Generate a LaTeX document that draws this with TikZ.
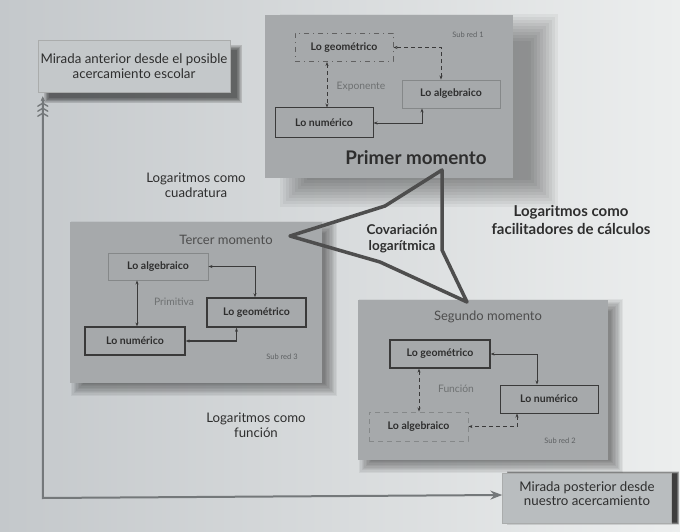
\documentclass[tikz,border=0pt]{standalone}
\usepackage{fontspec}
\setmainfont{Lato}
\usetikzlibrary{arrows.meta,calc}
\definecolor{bgL}{HTML}{C4C8CB}
\definecolor{bgR}{HTML}{ECEEEE}
\definecolor{panel}{HTML}{A6A9AB}
\definecolor{ink}{HTML}{2E2E2E}
\definecolor{soft}{HTML}{5E6163}
\definecolor{lineD}{HTML}{3A3A3A}
\definecolor{lineL}{HTML}{858889}
\definecolor{axis}{HTML}{74787A}
\definecolor{mirAfill}{HTML}{C4C8CA}
\definecolor{mirBfill}{HTML}{B9BDBF}
\newcommand\mkshadow[5]{% node, dx, dy, r, opacity per layer
  \foreach \k in {0,...,9}{
    \fill[black, opacity=#5]
      ($(#1.south west)+({#2-#4+\k*#4/5},{#3+#4-\k*#4/5})$) rectangle
      ($(#1.north east)+({#2+#4-\k*#4/5},{#3-#4+\k*#4/5})$);
  }}
\tikzset{
  panelbox/.style={fill=panel, draw=none, inner sep=0pt},
  mirbox/.style={fill=#1, draw=lineL!70, line width=0.4pt, align=center, font=\fontsize{13.3}{14.5}\selectfont, text=ink, inner sep=0pt},
  inbox/.style={draw=lineD, line width=1pt, minimum width=98pt, minimum height=28pt, inner sep=0pt, font=\bfseries\fontsize{10.5}{12}\selectfont, text=ink},
  lightbox/.style={inbox, draw=lineL, line width=0.9pt},
  thickbox/.style={inbox, line width=1.6pt},
  ddbox/.style={inbox, draw=lineD!80, line width=0.9pt, dash pattern=on 5pt off 4pt on 1pt off 4pt},
  dlbox/.style={inbox, draw=lineL, line width=0.9pt, dash pattern=on 5pt off 4pt},
  conn/.style={line width=0.9pt, draw=lineD, {Stealth[length=4pt,width=3pt]}-{Stealth[length=4pt,width=3pt]}},
  dconn/.style={conn, dash pattern=on 4pt off 3pt},
  subtxt/.style={text=soft, font=\fontsize{7.5}{8}\selectfont},
  reltxt/.style={text=soft!90, font=\fontsize{10.3}{12}\selectfont},
  momtxt/.style={text=ink!85, font=\fontsize{13}{15}\selectfont},
  captxt/.style={text=ink, align=center, font=\fontsize{13.2}{15.5}\selectfont},
  boldcap/.style={text=ink, align=center, font=\bfseries\fontsize{15}{17.5}\selectfont},
}
\begin{document}
\begin{tikzpicture}[x=1pt,y=-1pt]
\useasboundingbox (0,0) rectangle (680,532);
\shade[left color=bgL, right color=bgR] (0,0) rectangle (680,532);

% panel geometry
\path (389,96.5) node[minimum width=248pt, minimum height=163pt, inner sep=0pt] (p1g) {};
\path (196,302.5) node[minimum width=252pt, minimum height=161pt, inner sep=0pt] (p3g) {};
\path (483,380) node[minimum width=250pt, minimum height=160pt, inner sep=0pt] (p2g) {};
\mkshadow{p1g}{30}{14}{15}{0.045}
\mkshadow{p3g}{8}{6}{7}{0.05}
\mkshadow{p2g}{8}{6}{7}{0.05}

% panels
\node[panelbox, minimum width=248pt, minimum height=163pt] (p1) at (p1g) {};
\node[panelbox, minimum width=252pt, minimum height=161pt] (p3) at (p3g) {};
\node[panelbox, minimum width=250pt, minimum height=160pt] (p2) at (p2g) {};

% outer boxes
\path (134,66) node[minimum width=192pt, minimum height=52pt, inner sep=0pt] (mAg) {};
\path (587,498) node[minimum width=169pt, minimum height=50pt, inner sep=0pt] (mBg) {};
\mkshadow{mAg}{9}{8}{3}{0.07}
\mkshadow{mBg}{6}{0}{1.5}{0.12}
\node[mirbox=mirAfill, minimum width=192pt, minimum height=52pt] (mirA) at (mAg)
  {Mirada anterior desde el posible\\acercamiento escolar};
\node[mirbox=mirBfill, minimum width=169pt, minimum height=50pt, text depth=0pt] (mirB) at (mBg)
  {\raisebox{17pt}{\parbox{165pt}{\centering Mirada posterior desde\\nuestro acercamiento}}};

% axis
\coordinate (ax) at ([xshift=5pt]mirA.south west);
\coordinate (axc) at (ax |- mirB.west);
\draw[axis, line width=2pt, -{Stealth[length=12pt,width=9pt,inset=4pt]}] ([yshift=-6pt]ax) -- (axc) -- ([yshift=3pt]mirB.west);
\fill[axis] ($(ax)+(0,4)$) -- ($(ax)+(2.2,9)$) -- ($(ax)+(0,8)$) -- ($(ax)+(-2.2,9)$) -- cycle;
\foreach \d in {11,16,21}{
  \draw[axis, line width=1.4pt, line cap=round] ($(ax)+(-5,\d+3)$) -- ($(ax)+(0,\d)$) -- ($(ax)+(5,\d+3)$);
}

% Primer momento
\node[ddbox] (g1) at (344,47.5) {Lo geométrico};
\node[lightbox] (a1) at (451,94) {Lo algebraico};
\node[inbox, minimum height=30pt] (n1) at (324,123) {Lo numérico};
\draw[dconn] ([xshift=-10pt]a1.north) |- (g1.east);
\draw[dconn] ([xshift=-17pt]g1.south) -- ([xshift=-17pt]g1.south |- n1.north);
\draw[conn] (n1.east) -| ([xshift=-29pt]a1.south);
\node[reltxt] (e1) at (361,87) {Exponente};
\node[subtxt] (s1) at (468,35) {Sub red 1};
\node[text=ink, font=\bfseries\fontsize{18.8}{20}\selectfont] (t1) at (416,158) {Primer momento};

% Tercer momento
\node[momtxt] (t3) at (226,240) {Tercer momento};
\node[lightbox, minimum width=100pt, minimum height=27pt] (a3) at (158,266.5) {Lo algebraico};
\node[thickbox, minimum width=99pt, minimum height=29pt] (g3) at (256.5,312.5) {Lo geométrico};
\node[inbox, line width=1.2pt, minimum width=100pt] (n3) at (135,341) {Lo numérico};
\draw[conn] (a3.east) -| ([xshift=-1.5pt]g3.north);
\draw[conn] ([xshift=-21pt]a3.south) -- ([xshift=-21pt]a3.south |- n3.north);
\draw[conn, line width=1.3pt] (n3.east) -| ([xshift=-20pt]g3.south);
\node[reltxt] (e3) at (174,302) {Primitiva};
\node[subtxt] (s3) at (282,357) {Sub red 3};

% Segundo momento
\node[momtxt] (t2) at (488,317) {Segundo momento};
\node[inbox, line width=1.2pt, minimum width=100pt] (g2) at (440,354) {Lo geométrico};
\node[inbox] (n2) at (549,399) {Lo numérico};
\node[dlbox, minimum width=99pt, minimum height=29pt] (a2) at (418.5,426.5) {Lo algebraico};
\draw[conn] (g2.east) -| ([xshift=-12pt]n2.north);
\draw[dconn] ([xshift=-21pt]g2.south) -- ([xshift=-21pt]g2.south |- a2.north);
\draw[dconn] ([xshift=-32pt]n2.south) |- (a2.east);
\node[reltxt] (e2) at (456,389) {Función};
\node[subtxt] (s2) at (560,441) {Sub red 2};

% central shape
\coordinate (cL) at (290,236);
\coordinate (cU) at (385,206);
\coordinate (cT) at (442,170);
\coordinate (cR) at (442,250);
\coordinate (cB) at (467,302);
\coordinate (cD) at (380,262);
\draw[lineD!90, line width=3.5pt, line join=round] (cL) -- (cU) -- (cT) -- (cR) -- (cB) -- (cD) -- cycle;
\node[text=ink, align=center, font=\bfseries\fontsize{13.5}{16}\selectfont] (cov) at (402,239) {Covariación\\logarítmica};

% captions
\node[captxt] (lc) at (196,185) {Logaritmos como\\cuadratura};
\node[boldcap] (lf) at (571,220) {Logaritmos como\\facilitadores de cálculos};
\node[captxt] (lfu) at (256,425) {Logaritmos como\\función};
\end{tikzpicture}
\end{document}
